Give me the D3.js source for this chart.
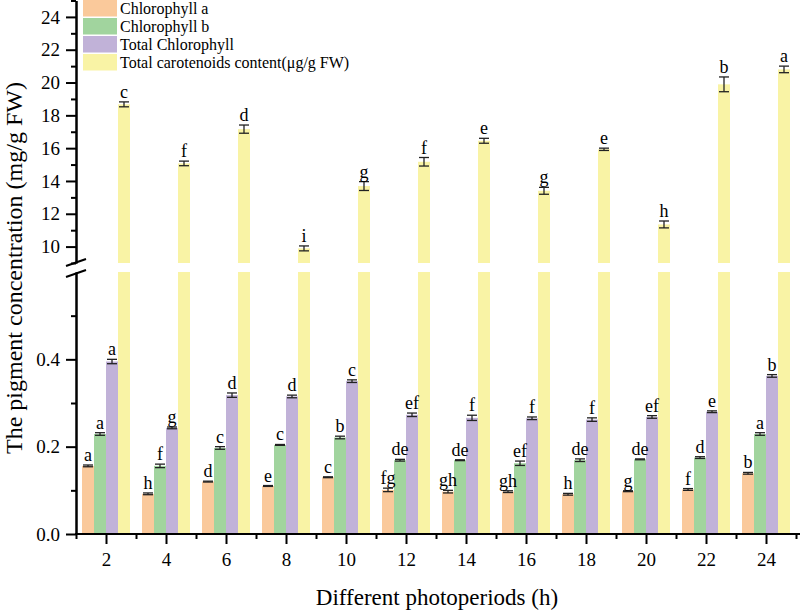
<!DOCTYPE html>
<html>
<head>
<meta charset="utf-8">
<script src="https://cdn.jsdelivr.net/npm/d3@7"></script>
<style>
  body { margin: 0; background: #fff; }
  text { font-family: "Liberation Serif", "Times New Roman", serif; fill: #000; }
</style>
</head>
<body>
<div id="chart"></div>
<script>
// data
var periods = [2, 4, 6, 8, 10, 12, 14, 16, 18, 20, 22, 24];
var seriesNames = ['Chlorophyll a', 'Chlorophyll b', 'Total Chlorophyll', 'Total carotenoids content(\u03bcg/g FW)'];
var colors = ['#FAC99B', '#A1D49E', '#C1B2D8', '#F9F3A5'];

var chlA      = [0.156, 0.092, 0.120, 0.110, 0.130, 0.101, 0.097, 0.097, 0.091, 0.098, 0.102, 0.139];
var chlAErr   = [0.002, 0.002, 0.001, 0.001, 0.001, 0.004, 0.003, 0.002, 0.002, 0.001, 0.002, 0.002];
var chlALab   = ['a', 'h', 'd', 'e', 'c', 'fg', 'gh', 'gh', 'h', 'g', 'f', 'b'];

var chlB      = [0.229, 0.156, 0.197, 0.204, 0.221, 0.169, 0.169, 0.162, 0.169, 0.171, 0.175, 0.229];
var chlBErr   = [0.003, 0.004, 0.003, 0.001, 0.003, 0.002, 0.001, 0.005, 0.003, 0.001, 0.002, 0.003];
var chlBLab   = ['a', 'f', 'c', 'c', 'b', 'de', 'de', 'ef', 'de', 'de', 'd', 'a'];

var total     = [0.395, 0.243, 0.318, 0.315, 0.350, 0.273, 0.266, 0.265, 0.262, 0.268, 0.280, 0.362];
var totalErr  = [0.005, 0.002, 0.005, 0.003, 0.003, 0.004, 0.006, 0.003, 0.004, 0.003, 0.002, 0.003];
var totalLab  = ['a', 'g', 'd', 'd', 'c', 'ef', 'f', 'f', 'f', 'ef', 'e', 'b'];

var carot     = [18.67, 15.07, 17.16, 9.89, 13.69, 15.17, 16.45, 13.40, 15.93, 11.35, 19.89, 20.80];
var carotErr  = [0.15, 0.14, 0.25, 0.15, 0.27, 0.26, 0.15, 0.21, 0.07, 0.21, 0.45, 0.20];
var carotLab  = ['c', 'f', 'd', 'i', 'g', 'f', 'e', 'g', 'e', 'h', 'b', 'a'];

var lowTicks = [0.0, 0.2, 0.4];
var lowMinor = [0.1, 0.3, 0.5];
var highTicks = [10, 12, 14, 16, 18, 20, 22, 24];
var highMinor = [9, 11, 13, 15, 17, 19, 21, 23, 25];
var xMinor = [1, 3, 5, 7, 9, 11, 13, 15, 17, 19, 21, 23, 25];

var width = 800, height = 616;
var svg = d3.select('#chart').append('svg')
  .attr('width', width)
  .attr('height', height);

var x = d3.scaleLinear().domain([1, 25]).range([76, 796]);
var yLow = d3.scaleLinear().domain([0, 0.6]).range([534, 272]);
var yHigh = d3.scaleLinear().domain([9, 25]).range([263, 0.5]);
var barW = 12;

function offset(i) { return -2 * barW + i * barW; }

// lower bars: chlorophylls
var lowSeries = [
  {vals: chlA, err: chlAErr, lab: chlALab},
  {vals: chlB, err: chlBErr, lab: chlBLab},
  {vals: total, err: totalErr, lab: totalLab}
];

lowSeries.forEach(function(s, si) {
  periods.forEach(function(p, k) {
    var v = s.vals[k];
    svg.append('rect')
      .attr('x', x(p) + offset(si))
      .attr('y', yLow(v))
      .attr('width', barW)
      .attr('height', yLow(0) - yLow(v))
      .attr('fill', colors[si]);
  });
});

// carotenoids: both segments
periods.forEach(function(p, k) {
  svg.append('rect')
    .attr('x', x(p) + offset(3))
    .attr('y', yLow(0.6))
    .attr('width', barW)
    .attr('height', yLow(0) - yLow(0.6))
    .attr('fill', colors[3]);
  svg.append('rect')
    .attr('x', x(p) + offset(3))
    .attr('y', yHigh(carot[k]))
    .attr('width', barW)
    .attr('height', yHigh(9) - yHigh(carot[k]))
    .attr('fill', colors[3]);
});

function errBar(cx, yScale, v, e, lab) {
  var top = yScale(v + e), bot = yScale(v - e);
  var g = svg.append('g').attr('stroke', '#222').attr('stroke-width', 1.3);
  g.append('line').attr('x1', cx).attr('x2', cx).attr('y1', top).attr('y2', bot);
  g.append('line').attr('x1', cx - 5).attr('x2', cx + 5).attr('y1', top).attr('y2', top);
  g.append('line').attr('x1', cx - 5).attr('x2', cx + 5).attr('y1', bot).attr('y2', bot);
  svg.append('text')
    .attr('x', cx)
    .attr('y', top - 4)
    .attr('text-anchor', 'middle')
    .style('font-size', '18px')
    .text(lab);
}

lowSeries.forEach(function(s, si) {
  periods.forEach(function(p, k) {
    errBar(x(p) + offset(si) + barW / 2, yLow, s.vals[k], s.err[k], s.lab[k]);
  });
});
periods.forEach(function(p, k) {
  errBar(x(p) + offset(3) + barW / 2, yHigh, carot[k], carotErr[k], carotLab[k]);
});

// axes
function styleAxis(g) {
  g.attr('font-family', null);
  g.selectAll('path').attr('stroke', '#000').attr('stroke-width', 2);
  g.selectAll('line').attr('stroke', '#000').attr('stroke-width', 2);
  g.selectAll('text').style('font-size', '19px').style('font-family', '"Liberation Serif", serif');
}

var gLowMinor = svg.append('g').attr('transform', 'translate(76,0)')
  .call(d3.axisLeft(yLow).tickValues(lowMinor).tickSize(5).tickFormat('').tickSizeOuter(0));
styleAxis(gLowMinor);
var gLow = svg.append('g').attr('transform', 'translate(76,0)')
  .call(d3.axisLeft(yLow).tickValues(lowTicks).tickSize(10).tickPadding(6).tickSizeOuter(0).tickFormat(d3.format('.1f')));
styleAxis(gLow);

var gHighMinor = svg.append('g').attr('transform', 'translate(76,0)')
  .call(d3.axisLeft(yHigh).tickValues(highMinor).tickSize(5).tickFormat('').tickSizeOuter(0));
styleAxis(gHighMinor);
var gHigh = svg.append('g').attr('transform', 'translate(76,0)')
  .call(d3.axisLeft(yHigh).tickValues(highTicks).tickSize(10).tickPadding(6).tickSizeOuter(0));
styleAxis(gHigh);

var gxMinor = svg.append('g').attr('transform', 'translate(0,534)')
  .call(d3.axisBottom(x).tickValues(xMinor).tickSize(5).tickFormat('').tickSizeOuter(0));
styleAxis(gxMinor);
gxMinor.select('path').attr('d', 'M75,0H800');
var gx = svg.append('g').attr('transform', 'translate(0,534)')
  .call(d3.axisBottom(x).tickValues(periods).tickSize(10).tickPadding(9).tickSizeOuter(0));
styleAxis(gx);
gx.select('path').remove();

// axis break marks
svg.append('line').attr('x1', 66).attr('y1', 266).attr('x2', 86).attr('y2', 259)
  .attr('stroke', '#000').attr('stroke-width', 2);
svg.append('line').attr('x1', 66).attr('y1', 277).attr('x2', 86).attr('y2', 270)
  .attr('stroke', '#000').attr('stroke-width', 2);

// titles
svg.append('text')
  .attr('transform', 'translate(22,268) rotate(-90)')
  .attr('text-anchor', 'middle')
  .style('font-size', '24px')
  .text('The pigment concentration (mg/g FW)');

svg.append('text')
  .attr('x', 437)
  .attr('y', 605)
  .attr('text-anchor', 'middle')
  .style('font-size', '23px')
  .text('Different photoperiods (h)');

// legend
var legend = svg.append('g').attr('transform', 'translate(83,0)');
seriesNames.forEach(function(name, i) {
  legend.append('rect')
    .attr('x', 0)
    .attr('y', i * 18)
    .attr('width', 34)
    .attr('height', 16.5)
    .attr('fill', colors[i]);
  legend.append('text')
    .attr('x', 37)
    .attr('y', i * 18 + 13.5)
    .style('font-size', '16px')
    .text(name);
});
</script>
</body>
</html>
